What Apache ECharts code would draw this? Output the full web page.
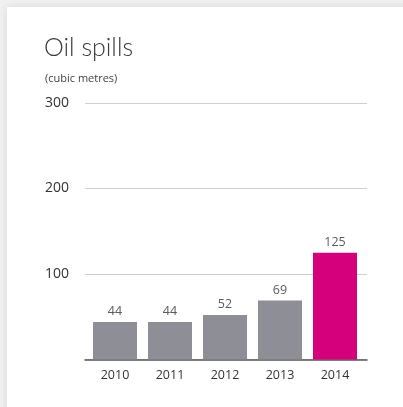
<!DOCTYPE html>
<html>
<head>
<meta charset="utf-8">
<script src="https://cdn.jsdelivr.net/npm/echarts@6/dist/echarts.min.js"></script>
<style>
  html, body { margin: 0; padding: 0; background: #f0f0f0; }
  #chart { width: 403px; height: 407px; }
</style>
</head>
<body>
<div id="chart"></div>
<script>
// Oil spills per year, cubic metres
const years = ['2010', '2011', '2012', '2013', '2014'];
const spills = [44, 44, 52, 69, 125];
const barColors = ['#8e8e96', '#8e8e96', '#8e8e96', '#8e8e96', '#d4007c'];
const yTicks = [0, 100, 200, 300];

const chart = echarts.init(document.getElementById('chart'));

const gridTop = 103;
const gridBottom = 407 - 359.5;

chart.setOption({
  animation: false,
  graphic: [
    {
      type: 'rect',
      shape: { x: 7, y: 7, width: 420, height: 420 },
      style: { fill: '#ffffff', shadowBlur: 8, shadowColor: 'rgba(0,0,0,0.10)' },
      z: -10
    },
    {
      type: 'text', left: 44, top: 35,
      style: { text: 'Oil spills', fill: '#3a3a3a', font: '300 25px Lato, "Open Sans", sans-serif' }
    },
    {
      type: 'text', left: 45, top: 73,
      style: { text: '(cubic metres)', fill: '#444444', font: '11px "Open Sans", sans-serif' }
    }
  ],
  grid: [
    // frame for the value axis and gridlines
    { left: 85, right: 36, top: gridTop, bottom: gridBottom },
    // bars
    { left: 87.5, right: 40.5, top: gridTop, bottom: gridBottom }
  ],
  xAxis: [
    {
      gridIndex: 0, type: 'category', data: years,
      axisLine: { show: true, lineStyle: { color: '#555', width: 1.5 } },
      axisTick: { show: false }, axisLabel: { show: false }
    },
    {
      gridIndex: 1, type: 'category', data: years,
      axisLine: { show: false }, axisTick: { show: false },
      axisLabel: { color: '#333', fontSize: 12.5, margin: 9, fontFamily: '"Open Sans", sans-serif' }
    }
  ],
  yAxis: [
    {
      gridIndex: 0, type: 'value', min: yTicks[0], max: yTicks[yTicks.length - 1], interval: 100,
      axisLine: { show: false }, axisTick: { show: false },
      axisLabel: {
        align: 'left', margin: 40, color: '#333', fontSize: 14,
        fontFamily: '"Open Sans", sans-serif',
        formatter: v => (v === 0 ? '' : String(v))
      },
      splitLine: {
        show: true,
        lineStyle: { color: '#cfcfcf', width: 1 }
      }
    },
    {
      gridIndex: 1, type: 'value', min: yTicks[0], max: yTicks[yTicks.length - 1],
      show: false, splitLine: { show: false }
    }
  ],
  series: [
    {
      type: 'bar', xAxisIndex: 1, yAxisIndex: 1,
      barWidth: 44,
      data: spills.map((v, i) => ({ value: v, itemStyle: { color: barColors[i] } })),
      label: {
        show: true, position: 'top', distance: 4,
        color: '#5a5a5a', fontSize: 12.5, fontFamily: '"Open Sans", sans-serif'
      },
      z: 3
    }
  ]
});
</script>
</body>
</html>
